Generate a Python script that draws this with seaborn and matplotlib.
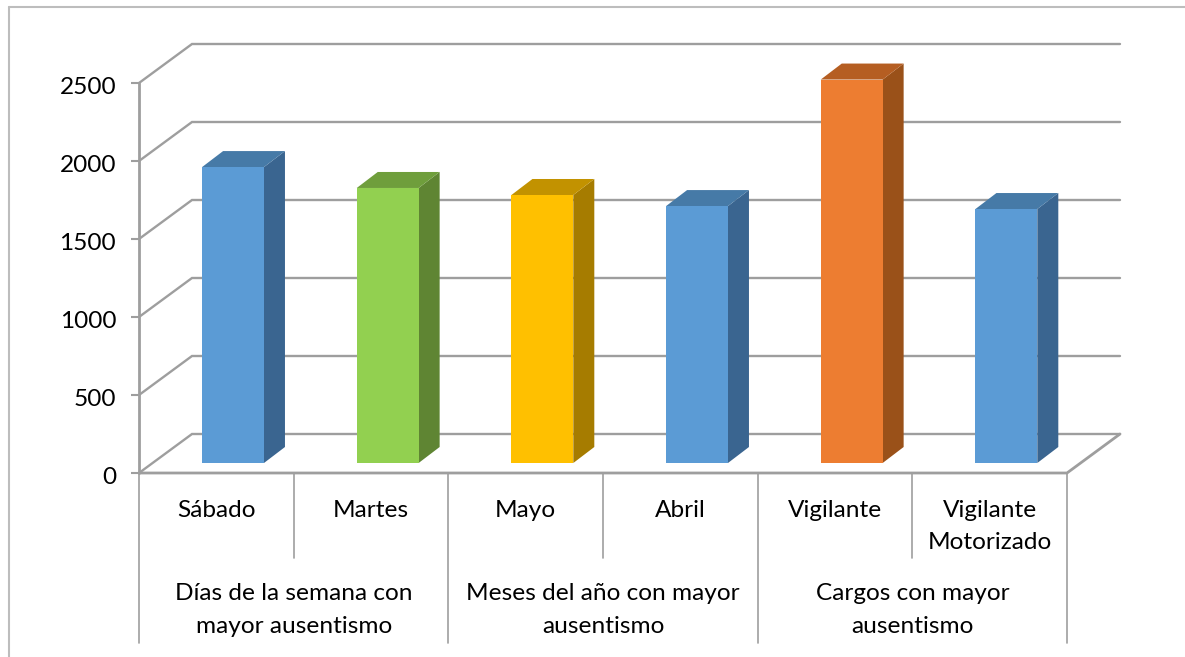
import matplotlib
matplotlib.use("Agg")
import matplotlib.pyplot as plt
from matplotlib.lines import Line2D
from matplotlib.patches import Polygon
from matplotlib.transforms import ScaledTranslation
import pandas as pd
import seaborn as sns

categories = ["Sábado", "Martes", "Mayo", "Abril", "Vigilante", "Vigilante\nMotorizado"]
values = [1897, 1763, 1718, 1647, 2458, 1628]
groups = ["Días de la semana con\nmayor ausentismo",
          "Meses del año con mayor\nausentismo",
          "Cargos con mayor\nausentismo"]
y_ticks = [0, 500, 1000, 1500, 2000, 2500]
front_colors = ["#5B9BD5", "#92D050", "#FFC000", "#5B9BD5", "#ED7D31", "#5B9BD5"]
side_colors = ["#3A6590", "#5F8533", "#A67C00", "#3A6590", "#9A5119", "#3A6590"]
top_colors = ["#467AA7", "#6F9E3C", "#C29200", "#467AA7", "#B55E22", "#467AA7"]

W, H = 1185, 657
sns.set_theme(style="white")
plt.rcParams["font.family"] = ["Lato", "DejaVu Sans"]
FS = 17.6
LS = 1.65
GRID = "#9E9E9E"

fig = plt.figure(figsize=(W / 100, H / 100), dpi=100, facecolor="white")
ax = fig.add_axes([139 / W, 1 - 473 / H, 928 / W, 390 / H])
ax.patch.set_alpha(0)

df = pd.DataFrame({"cat": categories, "val": values})
px_y = 2500 / 390          # value units per pixel
BASE = 10 * px_y           # bars float above the front edge of the floor
sns.barplot(data=df, x="cat", y="val", hue="cat", order=categories, hue_order=categories,
            palette=front_colors, legend=False, width=0.4, saturation=1,
            bottom=BASE, ax=ax, zorder=5, linewidth=0, clip_on=False)

X0 = -0.608
ax.set_xlim(X0, X0 + 6)
ax.set_ylim(0, 2500)
px_x = 6 / 928             # category units per pixel

# walls and floor
wx, wy = 53 * px_x, 39 * px_y
xl, xr = X0, X0 + 6
for v in y_ticks:
    ax.plot([xl, xl + wx, xr + wx], [v, v + wy, v + wy], color=GRID, lw=1.7,
            clip_on=False, zorder=1, solid_joinstyle="miter")
ax.plot([xl, xr, xr + wx], [0, 0, wy], color=GRID, lw=2.0, clip_on=False, zorder=2,
        solid_joinstyle="miter")
ax.plot([xl, xl], [0, 2500], color=GRID, lw=2.0, clip_on=False, zorder=2)

# depth faces of the bars
dx, dy = 21 * px_x, 16 * px_y
for bar, sc, tc in zip(list(ax.patches), side_colors, top_colors):
    bar.set_clip_on(False)
    x0, x1 = bar.get_x(), bar.get_x() + bar.get_width()
    y0, y1 = bar.get_y(), bar.get_y() + bar.get_height()
    ax.add_patch(Polygon([(x1, y0), (x1 + dx, y0 + dy), (x1 + dx, y1 + dy), (x1, y1)],
                         facecolor=sc, edgecolor="none", zorder=4, clip_on=False))
    ax.add_patch(Polygon([(x0, y1), (x0 + dx, y1 + dy), (x1 + dx, y1 + dy), (x1, y1)],
                         facecolor=tc, edgecolor="none", zorder=4, clip_on=False))

# axis ticks and labels
sns.despine(ax=ax, left=True, bottom=True, top=True, right=True)
ax.set_xlabel("")
ax.set_ylabel("")
ax.set_yticks(y_ticks)
ax.set_yticklabels([str(v) for v in y_ticks], fontsize=FS, color="black")
ax.tick_params(axis="y", left=True, length=6, width=1.5, color=GRID, pad=10.5)
nudge = ScaledTranslation(0, -2 / 100, fig.dpi_scale_trans)
for lab in ax.get_yticklabels():
    lab.set_transform(lab.get_transform() + nudge)
centers = [i + X0 + 0.5 for i in range(6)]
ax.set_xticks(centers)
ax.set_xticklabels(categories, fontsize=FS, color="black", linespacing=LS, va="top")
ax.tick_params(axis="x", bottom=False, length=0, pad=19.5)

# multi-level separators and group labels
xt = ax.get_xaxis_transform()
for i in range(7):
    long_sep = i % 2 == 0
    end = (473 - (643 if long_sep else 558)) / 390
    ax.plot([X0 + i, X0 + i], [0, end], transform=xt, color=GRID, lw=1.2, clip_on=False, zorder=2)
for g, name in enumerate(groups):
    ax.text(X0 + 1 + 2 * g, (473 - 583.5) / 390, name, transform=xt, ha="center", va="top",
            fontsize=FS, color="black", linespacing=LS)

# chart frame
frame = "#BDBDBD"
fig.add_artist(Line2D([8.5 / W, 8.5 / W], [0, 1 - 6.5 / H], color=frame, lw=1.5))
fig.add_artist(Line2D([8.5 / W, 1], [1 - 6.5 / H, 1 - 6.5 / H], color=frame, lw=1.5))

fig.savefig("out.png", dpi=100, facecolor="white")
